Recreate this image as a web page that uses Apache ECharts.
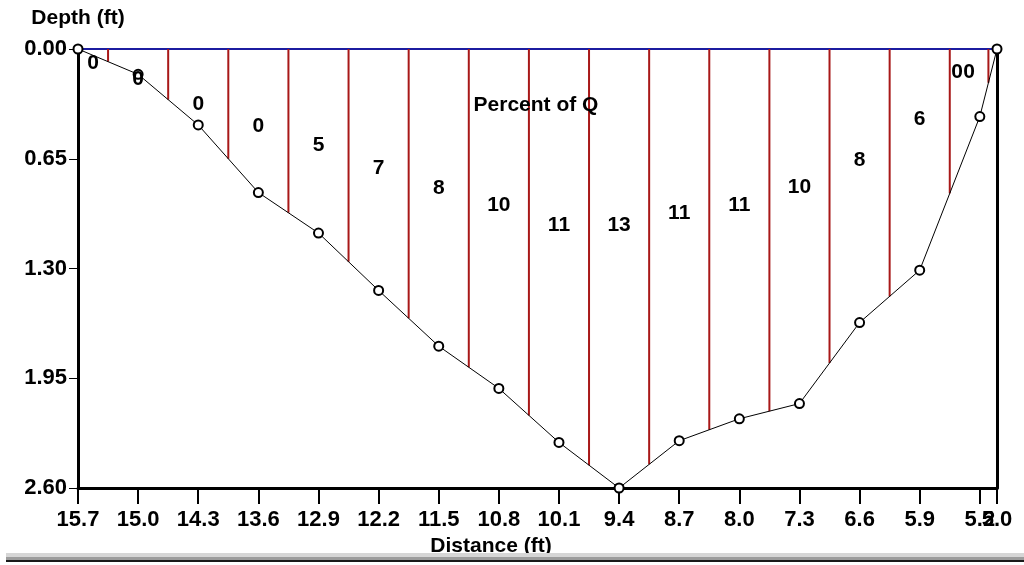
<!DOCTYPE html>
<html>
<head>
<meta charset="utf-8">
<script src="https://cdn.jsdelivr.net/npm/echarts@6/dist/echarts.min.js"></script>
<style>
  html, body { margin: 0; padding: 0; background: #fff; }
  #chart { width: 1024px; height: 565px; }
</style>
</head>
<body>
<div id="chart"></div>
<script>
// Stream cross-section: stations across the channel (ft from the left bank pin)
const stations = [15.7, 15.0, 14.3, 13.6, 12.9, 12.2, 11.5, 10.8, 10.1, 9.4, 8.7, 8.0, 7.3, 6.6, 5.9, 5.2, 5.0];
// Sounded depth at each station (ft)
const depths = [0, 0.15, 0.45, 0.85, 1.09, 1.43, 1.76, 2.01, 2.33, 2.60, 2.32, 2.19, 2.10, 1.62, 1.31, 0.40, 0];
// Share of total discharge carried by each station's subsection (%)
const percentQ = [0, 0, 0, 0, 5, 7, 8, 10, 11, 13, 11, 11, 10, 8, 6, 0, 0];
// Depth at which each subsection's percentage is printed (ft)
const labelDepth = [0.083, 0.18, 0.326, 0.46, 0.57, 0.705, 0.823, 0.928, 1.046, 1.042, 0.973, 0.924, 0.817, 0.657, 0.415, 0.138, 0.138];
// Distance axis tick labels
const xTicks = [15.7, 15.0, 14.3, 13.6, 12.9, 12.2, 11.5, 10.8, 10.1, 9.4, 8.7, 8.0, 7.3, 6.6, 5.9, 5.2, 5.0];

const FONT_FAMILY = '"Liberation Sans", Arial, sans-serif';
const FONT = 'bold 21px ' + FONT_FAMILY;

// Subsection boundaries sit midway between stations; the bed depth there is interpolated
const boundaries = [];
for (let i = 0; i < stations.length - 1; i++) {
  boundaries.push([(stations[i] + stations[i + 1]) / 2, (depths[i] + depths[i + 1]) / 2]);
}

// Each percentage is centred on its subsection
const labelData = stations.map((s, i) => {
  const left = i === 0 ? stations[0] : boundaries[i - 1][0];
  const right = i === stations.length - 1 ? stations[i] : boundaries[i][0];
  return [(left + right) / 2, labelDepth[i], percentQ[i], i];
});

const profile = stations.map((s, i) => [s, depths[i]]);
const surface = [[stations[0], 0], [stations[stations.length - 1], 0]];

const tickLabelStyle = {
  formatter: v => v.toFixed(1),
  margin: 21,
  showMinLabel: true,
  showMaxLabel: true,
  hideOverlap: false,
  color: '#000', fontFamily: FONT_FAMILY, fontWeight: 'bold', fontSize: 22
};

const chart = echarts.init(document.getElementById('chart'), null, { renderer: 'canvas' });

chart.setOption({
  animation: false,
  backgroundColor: '#fff',
  grid: { left: 78, right: 27, top: 49, bottom: 77, containLabel: false },
  xAxis: [
    {
      type: 'value',
      min: 5.0,
      max: 15.7,
      inverse: true,
      name: 'Distance (ft)',
      nameLocation: 'middle',
      nameGap: 45,
      nameTextStyle: {
        color: '#000', fontFamily: FONT_FAMILY, fontWeight: 'bold', fontSize: 21,
        padding: [0, 93, 0, 0]
      },
      axisLine: { show: true, onZero: false, lineStyle: { color: '#000', width: 3 } },
      axisTick: { show: true, customValues: xTicks, length: 16, lineStyle: { color: '#000', width: 2 } },
      axisLabel: Object.assign({ customValues: xTicks.slice(0, -1) }, tickLabelStyle),
      splitLine: { show: false }
    },
    {
      // right-bank end label, printed over its close neighbour
      type: 'value',
      position: 'bottom',
      min: 5.0,
      max: 15.7,
      inverse: true,
      axisLine: { show: false, onZero: false },
      axisTick: { show: false },
      axisLabel: Object.assign({ customValues: xTicks.slice(-1) }, tickLabelStyle),
      splitLine: { show: false }
    }
  ],
  yAxis: [
    {
      type: 'value',
      min: 0,
      max: 2.6,
      interval: 0.65,
      inverse: true,
      name: 'Depth (ft)',
      nameLocation: 'start',
      nameGap: 20,
      nameTextStyle: { color: '#000', fontFamily: FONT_FAMILY, fontWeight: 'bold', fontSize: 21 },
      axisLine: { show: true, onZero: false, lineStyle: { color: '#000', width: 3 } },
      axisTick: { show: true, length: 9, lineStyle: { color: '#000', width: 1 } },
      axisLabel: {
        formatter: v => v.toFixed(2),
        margin: 11,
        showMinLabel: true,
        showMaxLabel: true,
        color: '#000', fontFamily: FONT_FAMILY, fontWeight: 'bold', fontSize: 22
      },
      splitLine: { show: false }
    },
    {
      type: 'value',
      position: 'right',
      min: 0,
      max: 2.6,
      interval: 0.65,
      inverse: true,
      axisLine: { show: true, onZero: false, lineStyle: { color: '#000', width: 3 } },
      axisTick: { show: false },
      axisLabel: { show: false },
      splitLine: { show: false }
    }
  ],
  series: [
    {
      name: 'Water surface',
      type: 'line',
      data: surface,
      symbol: 'none',
      lineStyle: { color: '#1c1ca0', width: 2 },
      z: 1
    },
    {
      name: 'Subsection boundaries',
      type: 'custom',
      data: boundaries,
      encode: { x: 0, y: 1 },
      renderItem: (params, api) => {
        const x = api.value(0);
        const top = api.coord([x, 0]);
        const bottom = api.coord([x, api.value(1)]);
        return {
          type: 'line',
          shape: { x1: top[0], y1: top[1], x2: bottom[0], y2: bottom[1] },
          style: { stroke: '#a81818', lineWidth: 2 }
        };
      },
      z: 2
    },
    {
      name: 'Bed profile',
      type: 'line',
      data: profile,
      symbol: 'emptyCircle',
      symbolSize: 9,
      lineStyle: { color: '#000', width: 1 },
      itemStyle: { color: '#000', borderColor: '#000', borderWidth: 1 },
      z: 3
    },
    {
      name: 'Percent of Q',
      type: 'custom',
      data: labelData,
      encode: { x: 0, y: 1 },
      renderItem: (params, api) => {
        const idx = api.value(3);
        let p = api.coord([api.value(0), api.value(1)]);
        if (idx === stations.length - 1) {
          // the right-bank value is printed just left of its neighbour
          const prev = labelData[idx - 1];
          const q = api.coord([prev[0], prev[1]]);
          p = [q[0] - 12, q[1]];
        }
        return {
          type: 'text',
          x: p[0],
          y: p[1],
          style: {
            text: String(api.value(2)),
            font: FONT,
            fill: '#000',
            align: 'center',
            verticalAlign: 'middle'
          }
        };
      },
      z: 4
    }
  ],
  graphic: [
    {
      type: 'text',
      x: 536,
      y: 105,
      style: { text: 'Percent of Q', font: FONT, fill: '#000', align: 'center', verticalAlign: 'middle' },
      z: 10
    },
    { type: 'rect', shape: { x: 6, y: 553, width: 1018, height: 4 }, style: { fill: '#d6d6d6' }, z: 10 },
    { type: 'rect', shape: { x: 6, y: 557, width: 1018, height: 3 }, style: { fill: '#9c9c9c' }, z: 10 },
    { type: 'rect', shape: { x: 6, y: 560, width: 1018, height: 2 }, style: { fill: '#1a1a1a' }, z: 10 }
  ]
});
</script>
</body>
</html>
